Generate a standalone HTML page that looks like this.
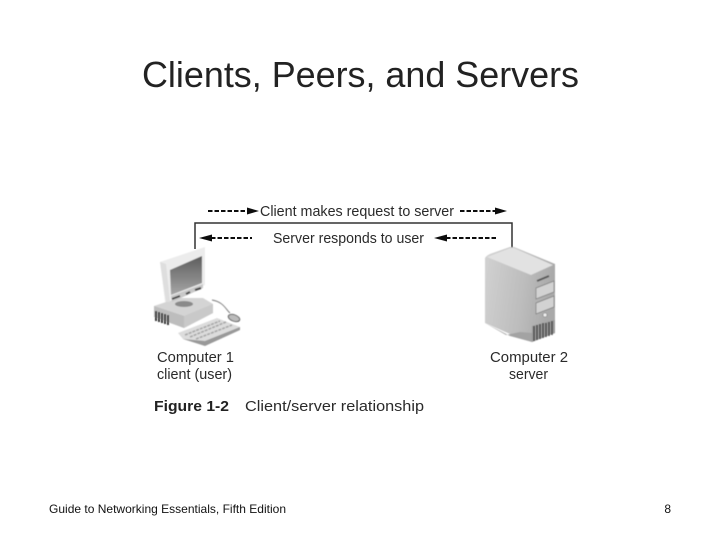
<!DOCTYPE html>
<html><head><meta charset="utf-8"><style>
html,body{margin:0;padding:0;background:#fff;width:720px;height:540px;overflow:hidden}
svg{display:block}
text{font-family:"Liberation Sans",sans-serif}
</style></head><body>
<svg width="720" height="540" viewBox="0 0 720 540" xmlns="http://www.w3.org/2000/svg">
<defs>
<filter id="b" x="-5%" y="-5%" width="110%" height="110%"><feGaussianBlur stdDeviation="0.45"/></filter>
<filter id="t" x="-5%" y="-5%" width="110%" height="110%"><feGaussianBlur stdDeviation="0.25"/></filter>
<linearGradient id="scr" x1="0" y1="0" x2="0" y2="1"><stop offset="0" stop-color="#5c5c5c"/><stop offset="0.55" stop-color="#858585"/><stop offset="1" stop-color="#a8a8a8"/></linearGradient>
<linearGradient id="srv" x1="0" y1="0" x2="1" y2="0.2"><stop offset="0" stop-color="#d2d2d2"/><stop offset="0.6" stop-color="#bdbdbd"/><stop offset="1" stop-color="#a9a9a9"/></linearGradient>
</defs>
<rect width="720" height="540" fill="#fff"/>
<text x="360.5" y="87" font-size="36" text-anchor="middle" fill="#222" textLength="437" lengthAdjust="spacingAndGlyphs">Clients, Peers, and Servers</text>

<g filter="url(#t)">
<path d="M195 249V223H512V249" fill="none" stroke="#333" stroke-width="1.500"/>
<path d="M208 211H248" stroke="#111" stroke-width="2" stroke-dasharray="4.500 2" fill="none"/>
<path d="M247 207.500L259 211L247 214.500Z" fill="#111"/>
<path d="M460 211H497" stroke="#111" stroke-width="2" stroke-dasharray="4.500 2" fill="none"/>
<path d="M495 207.500L507 211L495 214.500Z" fill="#111"/>
<path d="M211 238H252" stroke="#111" stroke-width="2" stroke-dasharray="4.500 2" fill="none"/>
<path d="M199 238L212 234.500V241.500Z" fill="#111"/>
<path d="M446 238H498" stroke="#111" stroke-width="2" stroke-dasharray="4.500 2" fill="none"/>
<path d="M434 238L447 234.500V241.500Z" fill="#111"/>
<g font-size="14.500" fill="#2b2b2b">
<text x="260" y="216" textLength="194" lengthAdjust="spacingAndGlyphs">Client makes request to server</text>
<text x="273" y="243" textLength="151" lengthAdjust="spacingAndGlyphs">Server responds to user</text>
<text x="157" y="362" textLength="77" lengthAdjust="spacingAndGlyphs">Computer 1</text>
<text x="157" y="379" textLength="75" lengthAdjust="spacingAndGlyphs">client (user)</text>
<text x="490" y="362" textLength="78" lengthAdjust="spacingAndGlyphs">Computer 2</text>
<text x="509" y="379" textLength="39" lengthAdjust="spacingAndGlyphs">server</text>
<text x="245" y="411" textLength="179" lengthAdjust="spacingAndGlyphs">Client/server relationship</text>
<text x="154" y="411" font-weight="bold" fill="#222" textLength="75" lengthAdjust="spacingAndGlyphs">Figure 1-2</text>
</g>
</g>

<!-- client computer -->
<g filter="url(#b)">
<path d="M154 306L178 298H203L213 304V313L184 328L154 317Z" fill="#d4d4d4"/>
<path d="M154 306L184 316V328L154 317Z" fill="#bdbdbd"/>
<path d="M184 316L213 304V313L184 328Z" fill="#c9c9c9"/>
<path d="M156 311V321M159 312V322M162 313V323M165 314V324M168 315V325" stroke="#222" stroke-width="1.800"/>
<path d="M160 262L205 247V285L168 302H165Z" fill="#ececec"/>
<path d="M160 262L166 264L170 302H166Z" fill="#dedede"/>
<path d="M170 270L202 256V283L171 295Z" fill="url(#scr)"/>
<path d="M171 296L203 284V288L172 302Z" fill="#c8c8c8"/>
<path d="M172 299L180 296M186 294L190 292M195 290L201 288" stroke="#444" stroke-width="2"/>
<ellipse cx="184" cy="304" rx="9" ry="3" fill="#8a8a8a"/>
<path d="M178 333L217 318L240 327L205 345L183 339Z" fill="#dcdcdc"/>
<path d="M183 339L205 341L240 327V330L205 346Z" fill="#999"/>
<path d="M185 335L220 321M190 337L226 322M196 339L232 325" stroke="#a5a5a5" stroke-width="1.600" stroke-dasharray="3 1"/>
<path d="M212 300C224 302 226 310 230 313" fill="none" stroke="#777" stroke-width="0.900"/>
<ellipse cx="234" cy="318" rx="6" ry="3.200" fill="#bbb" stroke="#555" stroke-width="0.900" transform="rotate(20 234 318)"/>
</g>

<!-- server tower -->
<g filter="url(#b)">
<path d="M485 258Q486 256 490 254L510 247H514L555 264V333L532 342L510 334L485 323Z" fill="url(#srv)"/>
<path d="M487 257L510 248H514L553 265L531 275Z" fill="#e2e2e2"/>
<path d="M485 323L506 335L520 332L532 333V342L510 336Z" fill="#a3a3a3"/>
<path d="M537 281L549 276" stroke="#555" stroke-width="1.800"/>
<path d="M536 288L554 281V292L536 299Z" fill="#d2d2d2" stroke="#7a7a7a" stroke-width="0.700"/>
<path d="M536 303L554 296V307L536 314Z" fill="#d2d2d2" stroke="#7a7a7a" stroke-width="0.700"/>
<circle cx="545" cy="315" r="2" fill="#eee" stroke="#777" stroke-width="0.600"/>
<path d="M532 326L555 320V333L532 342Z" fill="#999"/>
<path d="M534 326V341M537 325V340M540 324V339M543 323V338M546 323V337M549 322V336M552 321V335" stroke="#222" stroke-width="1.200"/>
</g>

<g font-size="12" fill="#111">
<text x="49" y="513" textLength="237" lengthAdjust="spacingAndGlyphs">Guide to Networking Essentials, Fifth Edition</text>
<text x="671" y="513" text-anchor="end">8</text>
</g>
</svg>
</body></html>
